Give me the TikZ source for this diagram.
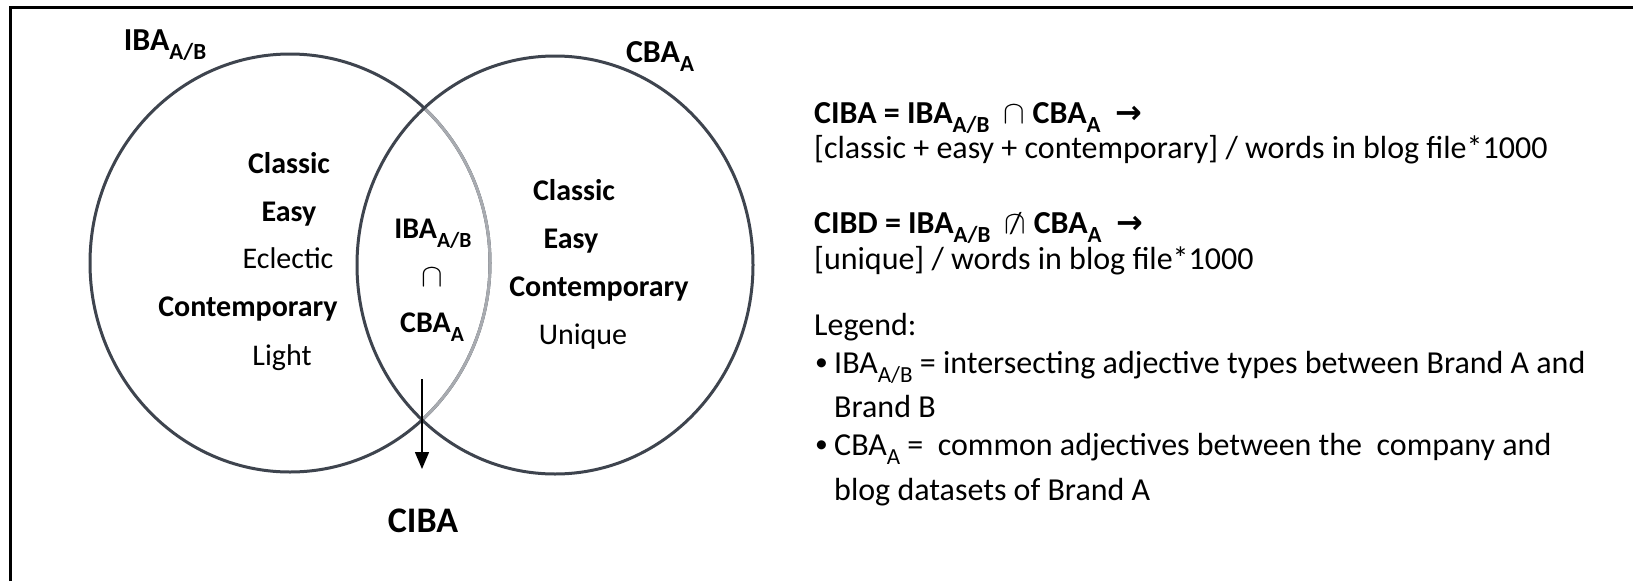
\documentclass[tikz,border=0pt]{standalone}
\usepackage{fontspec}
\usepackage{graphicx}
\setmainfont{Carlito}
\newfontfamily\djv{DejaVu Sans}
\usetikzlibrary{shapes.geometric,arrows.meta}
\definecolor{ring}{RGB}{62,68,78}
\definecolor{ringlt}{RGB}{168,171,176}
\makeatletter
\newcommand\relsize[1]{\fontsize{\the\dimexpr #1\dimexpr\f@size pt\relax\relax}{\the\dimexpr #1\dimexpr\f@size pt\relax\relax}\selectfont}
\makeatother
\newcommand\sbx[1]{\raisebox{-0.3em}{\relsize{0.72}#1}}
\newcommand\capbig{\scalebox{1.3}{$\cap$}}
\newcommand\notcapbig{\ooalign{\hfil\capbig\hfil\cr\hfil\raisebox{-0.02em}{\mdseries\relsize{0.95}/}\hfil\cr}}
\newcommand\arr{{\djv\bfseries →}}
\newcommand\bul{\raisebox{0.08em}{\relsize{0.8}•}}
\begin{document}
\begin{tikzpicture}[x=1pt,y=-1pt,
  ringbox/.style={draw=ring, line width=3pt, ellipse, inner sep=0pt},
  wb/.style={font=\fontsize{30}{36}\selectfont\bfseries, inner sep=0pt, anchor=base},
  wr/.style={font=\fontsize{30}{36}\selectfont, inner sep=0pt, anchor=base},
  lab/.style={font=\fontsize{32}{38}\selectfont\bfseries, inner sep=0pt, anchor=base},
  panel/.style={font=\fontsize{32}{38}\selectfont, inner sep=0pt, anchor=base west},
  panelb/.style={font=\fontsize{32}{38}\selectfont\bfseries, inner sep=0pt, anchor=base west}]
\useasboundingbox (0,0) rectangle (1633,581);
\fill[white] (0,0) rectangle (1633,581);
% frame (top and left edges only)
\draw[line width=3pt] (10.5,581) -- (10.5,7.5) -- (1633,7.5);

% circles
\node[ringbox, minimum width=400pt, minimum height=418pt] (L) at (290,263) {};
\begin{scope}
  \clip (555,265) ellipse [x radius=197pt, y radius=208pt];
  \draw[ringlt, line width=3pt] (290,263) ellipse [x radius=200pt, y radius=209pt];
\end{scope}
\node[ringbox, minimum width=396pt, minimum height=418pt] (R) at (555,265) {};

% top labels
\node[lab] (labL) at (165,50) {IBA\sbx{A/B}};
\node[lab] (labR) at (660,62) {CBA\sbx{A}};

% left circle words
\node[wb] (l1) at (289,173) {Classic};
\node[wb] (l2) at (289,221) {Easy};
\node[wr] (l3) at (288,268) {Eclectic};
\node[wb] (l4) at (248,316) {Contemporary};
\node[wr] (l5) at (282,365) {Light};

% right circle words
\node[wb] (r1) at (574,200) {Classic};
\node[wb] (r2) at (571,248) {Easy};
\node[wb] (r3) at (599,296) {Contemporary};
\node[wr] (r4) at (583,344) {Unique};

% intersection
\node[wb] (i1) at (433,238) {IBA\sbx{A/B}};
\node[font=\fontsize{30}{36}\selectfont, inner sep=0pt] (i2) at (432,278) {\scalebox{1.3}{$\cap$}};
\node[wb] (i3) at (432,332) {CBA\sbx{A}};

% arrow to CIBA
\coordinate (arrS) at (422,379);
\coordinate (arrE) at (422,469);
\draw[line width=1.5pt, -{Triangle[length=17pt,width=14pt]}] (arrS) -- (arrE);
\node[font=\fontsize{36}{42}\selectfont\bfseries, inner sep=0pt, anchor=base] (ciba) at (423,532) {CIBA};

% right panel
\node[panelb] (p1) at (814,123) {CIBA = IBA\sbx{A/B}\ \ {\mdseries\capbig}\ CBA\sbx{A}\ \ \arr};
\node[panel] (p2) at (814,158) {[classic + easy + contemporary] / words in blog file*1000};
\node[panelb] (p3) at (814,233) {CIBD = IBA\sbx{A/B}\ \ {\mdseries\notcapbig}\ CBA\sbx{A}\ \ \arr};
\node[panel] (p4) at (814,269) {[unique] / words in blog file*1000};
\node[panel] (p5) at (814,335) {Legend:};
\node[panel] (b1) at (815,373) {\bul};
\node[panel] (p6) at (834,373) {IBA\sbx{A/B} = intersecting adjective types between Brand A and};
\node[panel] (p7) at (834,417) {Brand B};
\node[panel] (b2) at (815,455) {\bul};
\node[panel] (p8) at (834,455) {CBA\sbx{A} =\ \ common adjectives between the\ \ company and};
\node[panel] (p9) at (834,500) {blog datasets of Brand A};
\end{tikzpicture}
\end{document}
